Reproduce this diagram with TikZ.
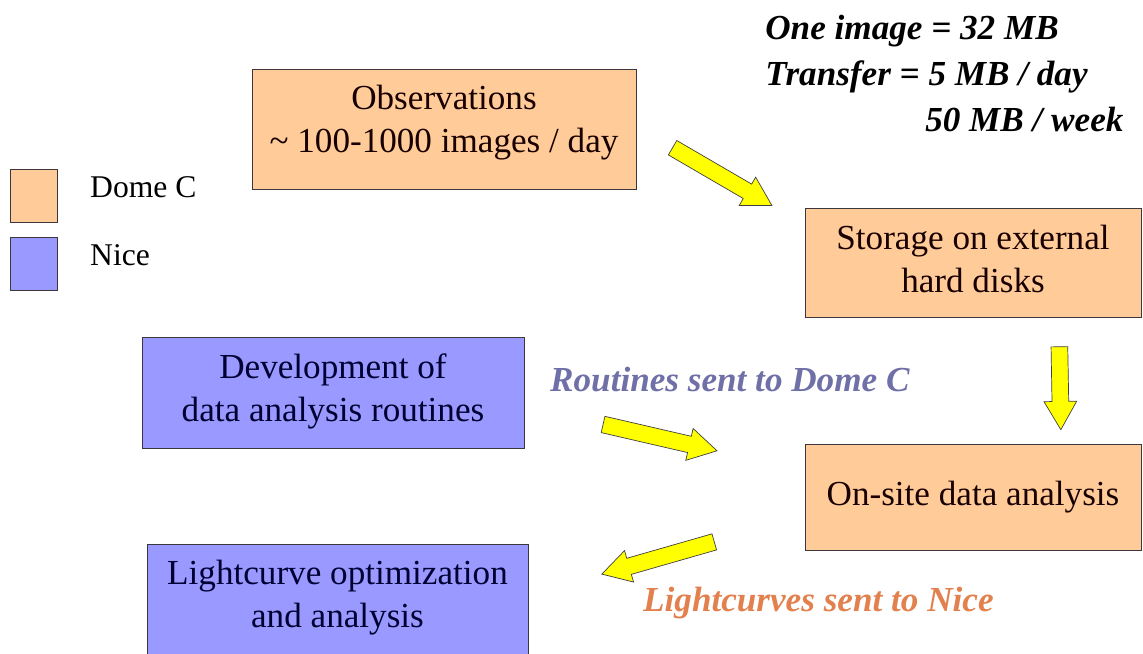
\documentclass[tikz,border=0pt]{standalone}
\usepackage{fontspec}
\setmainfont{LiberationSerif}[Extension=.ttf,UprightFont=*-Regular,BoldFont=*-Bold,
  ItalicFont=*-Italic,BoldItalicFont=*-BoldItalic]
\usepackage{xcolor}
\usepackage{tikz}
\usetikzlibrary{shapes.arrows,positioning}
\definecolor{domeOrange}{RGB}{255,204,153}
\definecolor{niceBlue}{RGB}{153,153,255}
\definecolor{edgeGray}{RGB}{60,55,60}
\definecolor{arrowYellow}{RGB}{255,255,0}
\definecolor{routineBlue}{RGB}{112,112,168}
\definecolor{curveOrange}{RGB}{226,128,78}
\begin{document}
\begin{tikzpicture}[
    x=0.02cm,y=-0.02cm,
    every node/.style={font=\fontsize{20}{24.5}\selectfont},
    dome/.style={rectangle,draw=edgeGray,fill=domeOrange,
                 inner sep=2pt,align=center,text=black!90!red},
    nice/.style={rectangle,draw=edgeGray,fill=niceBlue,
                 inner sep=2pt,align=center,text=black!80!blue},
    keybox/.style={rectangle,draw=edgeGray,minimum width=0.94cm,minimum height=1.06cm,inner sep=0pt},
    keytext/.style={anchor=west,font=\fontsize{18}{22}\selectfont},
    bigarrow/.style={single arrow,draw=black!75,fill=arrowYellow,thin,
                 minimum width=0.64cm,single arrow head extend=0.16cm,
                 single arrow tip angle=60,inner sep=0.16cm},
    flowlabel/.style={anchor=west,font=\fontsize{20}{24}\selectfont\bfseries\itshape}
  ]
  \useasboundingbox (0,0) rectangle (1143,653);
  \node[dome,minimum width=7.68cm,minimum height=2.4cm,text depth=0.4cm] (obs) at (444,129)
        {Observations\\\textasciitilde{} 100-1000 images / day};
  \node[dome,minimum width=6.72cm,minimum height=2.18cm,text depth=0.16cm] (storage) at (973,262.5)
        {Storage on external\\hard disks};
  \node[dome,minimum width=6.72cm,minimum height=2.12cm] (onsite) at (973,497)
        {On-site data analysis};
  \node[nice,minimum width=7.64cm,minimum height=2.22cm,text depth=0.2cm] (devel) at (333,392.5)
        {Development of\\data analysis routines};
  \node[nice,minimum width=7.62cm,minimum height=2.24cm,text depth=0.25cm] (lightc) at (337.5,600)
        {Lightcurve optimization\\and analysis};
  %% Legend
  \node[keybox,fill=domeOrange] (keydome) at (33.5,196) {};
  \node[keybox,fill=niceBlue] (keynice) at (33.5,263.5) {};
  \node[keytext] (keydometext) at (84,187) {Dome C};
  \node[keytext] (keynicetext) at (84,255) {Nice};
  %% Data volumes
  \node[anchor=north west,align=left,inner sep=0pt,
        font=\fontsize{20}{26}\selectfont\bfseries\itshape] (volume) at (765,15)
        {One image = 32 MB\\Transfer = 5 MB / day\\\hspace*{3.2cm}50 MB / week};
  %% Block arrows
  \node[bigarrow,minimum height=2.3cm,rotate=-30.2] (a1) at (716,173) {};
  \node[bigarrow,minimum height=1.66cm,rotate=-89] (a2) at (1060,381) {};
  \node[bigarrow,minimum height=2.34cm,rotate=-13] (a3) at (653,436) {};
  \node[bigarrow,minimum height=2.34cm,rotate=196] (a4) at (665,556) {};
  %% Flow labels
  \node[flowlabel,text=routineBlue] (routines) at (544,380) {Routines sent to Dome C};
  \node[flowlabel,text=curveOrange] (curves) at (637,603) {Lightcurves sent to Nice};
\end{tikzpicture}
\end{document}
